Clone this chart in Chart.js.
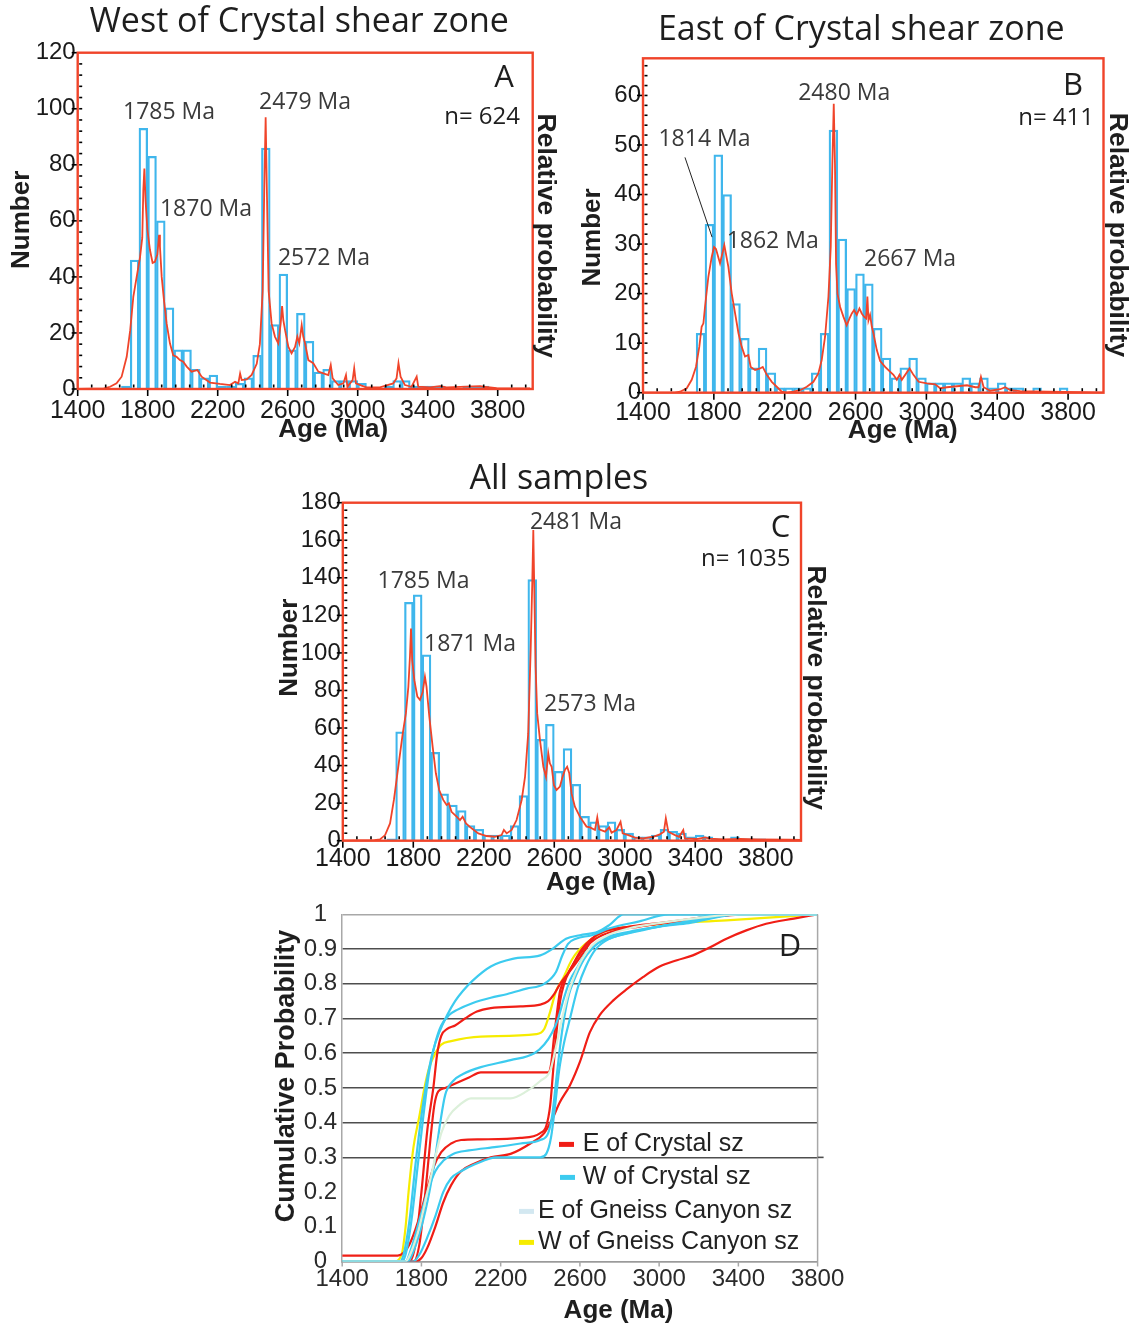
<!DOCTYPE html>
<html><head><meta charset="utf-8">
<script src="https://cdn.jsdelivr.net/npm/chart.js@4.4.1/dist/chart.umd.min.js"></script>
<style>
html,body{margin:0;padding:0;background:#fff;}
body{width:1139px;height:1325px;position:relative;overflow:hidden;}
canvas{position:absolute;display:block;}
</style></head><body>
<canvas id="cA" width="570" height="450" style="left:0;top:0"></canvas>
<canvas id="cB" width="569" height="450" style="left:570px;top:0"></canvas>
<canvas id="cC" width="560" height="445" style="left:270px;top:455px"></canvas>
<canvas id="cD" width="600" height="430" style="left:260px;top:895px"></canvas>
<script>
// ---------------- DATA ----------------
const binCenters = [1625,1675,1725,1775,1825,1875,1925,1975,2025,2075,2125,2175,2225,2275,2325,2375,2425,2475,2525,2575,2625,2675,2725,2775,2825,2875,2925,2975,3025,3075,3125,3175,3225,3275,3325,3375,3425,3475,3525,3575,3625,3675,3725,3775];
const countsA = [0,1,46,93,83,60,29,14,14,7,4,5,1,1,2,4,12,86,23,41,14,27,17,6,7,3,3,3,2,0,0,1,3,3,1,1,1,1,0,0,1,1,1,0];
const countsB = [0,0,12,34,48,40,18,11,5,9,4,1,1,1,1,4,12,53,31,21,24,22,13,7,3,5,7,3,2,2,2,2,3,2,3,1,2,1,1,0,1,0,0,1];
const countsC = [0,1,58,127,131,99,47,25,19,16,8,6,3,3,3,8,24,139,54,62,37,49,30,13,10,8,10,6,4,2,2,3,6,5,4,2,3,2,1,0,2,1,1,1];

// relative probability curves, in units of the histogram axis
const probA = [[1400,0],[1550,0.2],[1585,0.8],[1622,2],[1651,4.4],[1680,11.5],[1700,21],[1718,33],[1737,40],[1756,47],[1769,54],[1775,71],[1781,78.7],[1788,67],[1798,57],[1813,49.6],[1828,45],[1841,45.4],[1855,48],[1865,55],[1870,50.8],[1880,40],[1893,31.7],[1908,23.4],[1927,16.3],[1946,12],[1965,11.5],[1984,10.3],[2003,9.7],[2023,8],[2051,6.2],[2084,6.8],[2108,4.4],[2156,2.3],[2213,1.8],[2270,1.4],[2299,2.6],[2318,2],[2328,5.5],[2337,3.2],[2366,3.4],[2394,5],[2423,9],[2441,16],[2457,35],[2466,71],[2474,97],[2481,71],[2491,35],[2508,23.4],[2527,18.7],[2546,16.3],[2560,23.4],[2568,29.6],[2575,24.6],[2585,21],[2604,15],[2622,12.7],[2642,15],[2655,18.7],[2666,16.3],[2680,22.8],[2689,18.7],[2699,16.3],[2718,10.3],[2746,9.2],[2775,6.2],[2804,5.6],[2832,5],[2846,8.6],[2857,3.8],[2889,1.4],[2918,2],[2933,5],[2941,0.8],[2971,3.2],[2980,7.4],[2990,2],[3022,1.2],[3051,0.6],[3127,0.6],[3203,2],[3222,3.8],[3233,9.2],[3245,4.4],[3270,1.4],[3308,0.8],[3337,4.4],[3346,0.8],[3413,0.6],[3470,1],[3508,0.6],[3699,1],[3718,0.8],[3794,0.3],[3985,0.2]];
const probB = [[1400,0],[1580,0],[1609,0.2],[1647,0.9],[1675,2.6],[1699,5.2],[1718,9.3],[1731,13.3],[1741,14],[1750,17.3],[1769,23.4],[1788,27.4],[1801,29.4],[1812,29],[1835,26.1],[1859,29.8],[1882,25.4],[1901,20],[1920,16],[1939,12],[1957,9.3],[1976,7.3],[1995,7.6],[2008,5.2],[2033,4.6],[2061,4.9],[2076,5.2],[2099,3.6],[2127,2.2],[2155,1.2],[2183,0.2],[2212,0],[2249,0.2],[2287,0.5],[2325,1.2],[2362,2.2],[2390,3.9],[2409,6.6],[2428,11.3],[2447,19.4],[2460,29.4],[2469,46],[2477,58.3],[2484,46],[2490,26],[2498,20],[2513,17.3],[2532,15.3],[2550,13.6],[2566,15],[2579,16],[2592,16.7],[2607,15.7],[2622,17],[2635,16],[2649,15.3],[2660,15],[2667,19.4],[2673,14.6],[2682,15.7],[2692,13.3],[2701,12],[2720,8.6],[2739,6.4],[2767,5.2],[2796,4.2],[2814,3.6],[2833,2.6],[2848,3.6],[2861,2.6],[2905,4.9],[2927,3.6],[2956,2.2],[3003,1.9],[3050,1.7],[3078,0.9],[3116,1.1],[3172,1.3],[3229,1.5],[3276,1.1],[3295,1.1],[3308,3.2],[3323,1.1],[3361,0.4],[3417,0.7],[3445,1.1],[3474,0.5],[3530,0.3],[3681,0.2],[3869,0.1],[4000,0]];
const probC = [[1400,0],[1580,0.3],[1611,0.7],[1640,3],[1668,9.2],[1690,21.7],[1715,39.4],[1740,57],[1758,67.8],[1772,82],[1781,98],[1787,113],[1794,96],[1806,85.5],[1823,76.7],[1838,75],[1853,79],[1866,87.3],[1875,82],[1891,66],[1910,50],[1928,35.9],[1947,27],[1970,21.7],[1989,19],[2002,19.9],[2017,15.4],[2046,12.8],[2065,11],[2080,12.8],[2099,9.2],[2131,6.6],[2169,3.9],[2216,2.5],[2263,2.1],[2301,3],[2314,5.7],[2330,3.9],[2358,5.7],[2386,11],[2415,21.7],[2434,34],[2452,57],[2466,101.5],[2475,137],[2481,165.4],[2486,137],[2494,92.7],[2503,67.8],[2519,53.6],[2538,39.4],[2553,34],[2566,46.5],[2575,41.2],[2585,39.4],[2598,29.6],[2613,27],[2632,28.8],[2647,34],[2660,37.6],[2673,39.4],[2685,35.9],[2698,25.2],[2717,18.1],[2745,12.8],[2783,7.5],[2803,7.1],[2831,5.7],[2844,12.4],[2855,6],[2888,4.8],[2912,7.1],[2925,4.3],[2953,5.7],[2976,10],[2988,3.9],[3020,3],[3058,1.6],[3105,1.2],[3161,2.1],[3199,3.4],[3222,4.8],[3233,11.9],[3247,4.8],[3285,3],[3309,2.1],[3332,5.7],[3341,1.2],[3407,0.9],[3455,1.8],[3483,1.1],[3559,0.7],[3654,0.9],[3748,0.7],[3937,0.5],[4000,0.4]];

// cumulative probability curves (panel D)
const cumE_Crystal_1 = [[1400,0],[1740,0],[1770,0.05],[1800,0.2],[1830,0.38],[1860,0.5],[1880,0.6],[1900,0.65],[1930,0.67],[1970,0.68],[2020,0.7],[2080,0.72],[2150,0.73],[2300,0.735],[2400,0.74],[2440,0.75],[2470,0.77],[2500,0.8],[2540,0.83],[2580,0.86],[2630,0.9],[2680,0.94],[2720,0.955],[2800,0.96],[2950,0.97],[3100,0.98],[3300,0.995],[3400,1],[3800,1]];
const cumE_Crystal_2 = [[1400,0],[1760,0],[1790,0.05],[1820,0.2],[1845,0.35],[1865,0.45],[1885,0.49],[1920,0.5],[1980,0.515],[2040,0.53],[2100,0.545],[2440,0.545],[2455,0.57],[2470,0.65],[2485,0.72],[2500,0.78],[2530,0.82],[2570,0.86],[2620,0.9],[2680,0.93],[2760,0.95],[2900,0.965],[3100,0.98],[3300,0.995],[3450,1],[3800,1]];
const cumE_Crystal_3 = [[1400,0.017],[1680,0.017],[1710,0.025],[1740,0.05],[1780,0.11],[1820,0.19],[1860,0.27],[1900,0.315],[1950,0.34],[2000,0.35],[2100,0.352],[2300,0.356],[2400,0.37],[2430,0.39],[2450,0.45],[2465,0.55],[2480,0.65],[2500,0.75],[2520,0.8],[2560,0.85],[2610,0.9],[2660,0.93],[2720,0.95],[2850,0.965],[3000,0.975],[3200,0.99],[3350,1],[3800,1]];
const cumE_Crystal_4 = [[1400,0],[1770,0],[1800,0.01],[1830,0.04],[1870,0.1],[1910,0.17],[1950,0.22],[2000,0.26],[2060,0.28],[2150,0.3],[2250,0.31],[2350,0.34],[2420,0.37],[2460,0.41],[2500,0.46],[2550,0.508],[2600,0.575],[2650,0.66],[2700,0.71],[2770,0.753],[2840,0.786],[2920,0.82],[3000,0.849],[3090,0.868],[3170,0.882],[3260,0.906],[3340,0.93],[3440,0.954],[3540,0.973],[3680,0.988],[3800,1]];
const cumW_Crystal_1 = [[1400,0],[1690,0],[1710,0.02],[1740,0.12],[1770,0.28],[1800,0.42],[1830,0.53],[1860,0.61],[1890,0.66],[1930,0.71],[1970,0.75],[2010,0.78],[2060,0.81],[2150,0.85],[2260,0.872],[2400,0.882],[2460,0.9],[2530,0.93],[2600,0.94],[2690,0.95],[2750,0.97],[2820,1],[3800,1]];
const cumW_Crystal_2 = [[1400,0],[1700,0],[1720,0.02],[1750,0.12],[1780,0.27],[1810,0.42],[1840,0.55],[1870,0.63],[1900,0.68],[1940,0.71],[1980,0.725],[2060,0.745],[2150,0.76],[2230,0.77],[2330,0.786],[2420,0.8],[2480,0.835],[2510,0.88],[2540,0.915],[2580,0.93],[2660,0.94],[2750,0.96],[2900,0.98],[3050,1],[3800,1]];
const cumW_Crystal_3 = [[1400,0],[1730,0],[1760,0.03],[1800,0.1],[1840,0.2],[1870,0.3],[1895,0.4],[1920,0.48],[1960,0.52],[2010,0.54],[2100,0.56],[2250,0.58],[2370,0.6],[2420,0.625],[2460,0.66],[2490,0.7],[2520,0.76],[2550,0.81],[2590,0.85],[2630,0.89],[2700,0.92],[2800,0.94],[2950,0.96],[3100,0.975],[3300,1],[3800,1]];
const cumW_Crystal_4 = [[1400,0],[1720,0],[1750,0.04],[1790,0.12],[1830,0.2],[1870,0.26],[1910,0.29],[1960,0.31],[2040,0.32],[2180,0.33],[2300,0.34],[2400,0.35],[2440,0.37],[2460,0.42],[2480,0.52],[2500,0.62],[2520,0.7],[2545,0.77],[2570,0.81],[2620,0.87],[2660,0.9],[2720,0.93],[2850,0.95],[3000,0.965],[3150,0.98],[3400,1],[3800,1]];
const cumW_Crystal_5 = [[1400,0],[1760,0],[1790,0.02],[1830,0.07],[1870,0.13],[1910,0.2],[1950,0.24],[2000,0.26],[2070,0.28],[2180,0.3],[2400,0.3],[2430,0.31],[2455,0.36],[2475,0.45],[2495,0.55],[2520,0.63],[2550,0.7],[2590,0.79],[2630,0.85],[2680,0.9],[2750,0.93],[2880,0.95],[3000,0.965],[3150,0.975],[3400,1],[3800,1]];
const cumE_Gneiss = [[1400,0],[1720,0],[1750,0.03],[1790,0.1],[1830,0.2],[1870,0.3],[1900,0.37],[1940,0.42],[1990,0.45],[2050,0.47],[2250,0.47],[2330,0.49],[2400,0.52],[2450,0.55],[2480,0.62],[2510,0.7],[2540,0.77],[2570,0.82],[2610,0.87],[2660,0.91],[2740,0.94],[2850,0.96],[3000,0.975],[3200,0.99],[3400,1],[3800,1]];
const cumW_Gneiss = [[1400,0],[1660,0],[1700,0.02],[1720,0.1],[1735,0.2],[1760,0.33],[1790,0.42],[1815,0.5],[1840,0.56],[1870,0.6],[1900,0.625],[1950,0.635],[2100,0.648],[2380,0.655],[2420,0.67],[2450,0.72],[2480,0.78],[2510,0.81],[2560,0.87],[2600,0.9],[2650,0.925],[2720,0.95],[2850,0.964],[3000,0.972],[3340,0.983],[3590,0.992],[3800,1]];

// ticks and labels
const xTicks = [1400,1800,2200,2600,3000,3400,3800];
const xTickLabels = ['1400','1800','2200','2600','3000','3400','3800'];
const yTicksA = [0,20,40,60,80,100,120];
const yTicksB = [0,10,20,30,40,50,60];
const yTicksC = [0,20,40,60,80,100,120,140,160,180];
const yTicksD = [0,0.1,0.2,0.3,0.4,0.5,0.6,0.7,0.8,0.9,1];
const yTickLabelsD = ['0','0.1','0.2','0.3','0.4','0.5','0.6','0.7','0.8','0.9','1'];

const panelTitles = ['West of Crystal shear zone','East of Crystal shear zone','All samples'];
const panelLetters = ['A','B','C','D'];
const sampleSizes = ['n= 624','n= 411','n= 1035'];
const peakLabelsA = ['1785 Ma','1870 Ma','2479 Ma','2572 Ma'];
const peakLabelsB = ['1814 Ma','1862 Ma','2480 Ma','2667 Ma'];
const peakLabelsC = ['1785 Ma','1871 Ma','2481 Ma','2573 Ma'];
const legendNames = ['E of Crystal sz','W of Crystal sz','E of Gneiss Canyon sz','W of Gneiss Canyon sz'];

// ---------------- STYLE / DRAWING ----------------
Chart.defaults.font.family = '"Liberation Sans", Arial, sans-serif';
Chart.defaults.color = '#1a1a1a';
const RED = '#f0442a', BAR = '#3fb6ec';
const SANS = '"Liberation Sans", Arial, sans-serif', OPEN = '"Open Sans", "Noto Sans", sans-serif';

function txt(ctx, s, x, y, font, color, align, rot) {
  ctx.save(); ctx.translate(x, y); if (rot) ctx.rotate(rot);
  ctx.font = font; ctx.fillStyle = color || '#1e1e1e';
  ctx.textAlign = align || 'center'; ctx.textBaseline = 'middle';
  ctx.fillText(s, 0, 0); ctx.restore();
}
function seg(ctx, x0, y0, x1, y1) { ctx.beginPath(); ctx.moveTo(x0, y0); ctx.lineTo(x1, y1); ctx.stroke(); }

function decor(cfg) {
  return { id: 'decor', afterDraw(chart) {
    const ctx = chart.ctx, a = chart.chartArea, xs = chart.scales.x, ys = chart.scales.y;
    const P = {L:a.left, R:a.right, T:a.top, B:a.bottom, cx:(a.left+a.right)/2, cy:(a.top+a.bottom)/2};
    ctx.save();
    if (cfg.box) { ctx.strokeStyle = cfg.box; ctx.lineWidth = 2.4; ctx.strokeRect(P.L, P.T, P.R-P.L, P.B-P.T); }
    if (cfg.minorX) {
      ctx.strokeStyle = '#000'; ctx.lineWidth = 1.6;
      for (let v = 1400 + cfg.minorX; v < xs.max; v += cfg.minorX) {
        if ((v - 1400) % 400 === 0) continue;
        const px = xs.getPixelForValue(v); seg(ctx, px, P.B - 1.5, px, P.B - 4.5);
      }
      xTicks.forEach(v => { const px = xs.getPixelForValue(v); seg(ctx, px, P.B + 1, px, P.B + 7); });
      for (let v = cfg.minorY; v < ys.max - 0.5; v += cfg.minorY) {
        const py = ys.getPixelForValue(v); seg(ctx, P.L + 1.5, py, P.L + 4.5, py);
      }
      cfg.yTicks.forEach(v => { const py = ys.getPixelForValue(v); seg(ctx, P.L - 6, py, P.L - 1, py); });
    }
    if (cfg.extra) cfg.extra(ctx, P, xs, ys);
    (cfg.lines || []).forEach(l => {
      ctx.strokeStyle = '#222'; ctx.lineWidth = 1;
      seg(ctx, xs.getPixelForValue(l[0]), ys.getPixelForValue(l[1]), xs.getPixelForValue(l[2]), ys.getPixelForValue(l[3]));
    });
    (cfg.notes || []).forEach(n => txt(ctx, n.s, xs.getPixelForValue(n.x), ys.getPixelForValue(n.y), '23px ' + OPEN, '#3a3a3a'));
    (cfg.texts || []).forEach(t => txt(ctx, t.s, t.x(P), t.y(P), t.font, t.color, t.align, t.rot));
    ctx.restore();
  }};
}

function histChart(id, cfg) {
  return new Chart(document.getElementById(id), {
    type: 'bar',
    data: { datasets: [
      { type: 'line', label: 'Relative probability', data: cfg.prob.map(p => ({x: p[0], y: p[1]})), yAxisID: 'y2',
        borderColor: RED, borderWidth: 1.8, pointRadius: 0, tension: 0, order: 0 },
      { type: 'bar', label: 'Number', data: binCenters.map((c, i) => ({x: c, y: cfg.counts[i]})), yAxisID: 'y',
        backgroundColor: 'rgba(0,0,0,0)', borderColor: BAR, borderWidth: 1.6, barPercentage: 1, categoryPercentage: 1,
        borderSkipped: 'bottom', order: 1 }
    ]},
    options: {
      responsive: false, animation: false, devicePixelRatio: 1,
      layout: { padding: { left: 0, top: cfg.T, right: 0, bottom: 0 } },
      plugins: { legend: { display: false }, tooltip: { enabled: false } },
      scales: {
        x: { type: 'linear', min: 1400, max: 4000, offset: false,
             grid: { display: false, offset: false, drawTicks: false }, border: { display: false },
             afterBuildTicks: s => { s.ticks = xTicks.map(v => ({value: v})); },
             ticks: { font: { size: 25 }, color: '#1a1a1a', padding: cfg.xPad, maxRotation: 0, autoSkip: false,
                      callback: (v, i) => xTickLabels[i] },
             afterFit: s => { s.height = cfg.xH; } },
        y: { position: 'left', min: 0, max: cfg.yMax,
             grid: { display: false, drawTicks: false }, border: { display: false },
             afterBuildTicks: s => { s.ticks = cfg.yTicks.map(v => ({value: v})); },
             ticks: { font: { size: 24 }, color: '#1a1a1a', padding: 2, autoSkip: false, callback: v => String(v) },
             afterFit: s => { s.width = cfg.L; } },
        y2: { position: 'right', min: 0, max: cfg.yMax,
              grid: { display: false, drawTicks: false }, border: { display: false },
              ticks: { display: false }, afterFit: s => { s.width = cfg.y2W; } }
      }
    },
    plugins: [decor(cfg)]
  });
}

const TFONT = '34px ' + OPEN, LFONT = '31px ' + OPEN, NFONT = '24px ' + OPEN;
const AXF = 'bold 26px ' + SANS, RPF = 'bold 26.5px ' + SANS;

histChart('cA', {
  T: 52.7, L: 77.7, y2W: 37.3, xH: 61, xPad: 7, yMax: 120, yTicks: yTicksA, minorX: 80, minorY: 4,
  counts: countsA, prob: probA, box: RED,
  notes: [ {s: peakLabelsA[0], x: 1922, y: 98.8}, {s: peakLabelsA[1], x: 2133, y: 64.2},
           {s: peakLabelsA[2], x: 2699, y: 102.4}, {s: peakLabelsA[3], x: 2807, y: 46.7} ],
  texts: [
    {s: panelTitles[0], x: P => P.cx - 6, y: P => P.T - 30.7, font: TFONT},
    {s: 'Number', x: P => P.L - 55.7, y: P => P.cy - 1, font: AXF, rot: -Math.PI/2},
    {s: 'Relative probability', x: P => P.R + 12.5, y: P => P.cy + 15, font: RPF, rot: Math.PI/2},
    {s: 'Age (Ma)', x: P => P.cx + 28, y: P => P.B + 41, font: AXF},
    {s: panelLetters[0], x: P => P.R - 28.7, y: P => P.T + 25.3, font: LFONT},
    {s: sampleSizes[0], x: P => P.R - 12.7, y: P => P.T + 64.3, font: NFONT, align: 'right'}
  ]
});

histChart('cB', {
  T: 58.3, L: 73, y2W: 35.5, xH: 57.3, xPad: 5, yMax: 67.5, yTicks: yTicksB, minorX: 80, minorY: 2,
  counts: countsB, prob: probB, box: RED,
  lines: [[1637, 47.5, 1790, 31.4]],
  notes: [ {s: peakLabelsB[0], x: 1747, y: 51.1}, {s: peakLabelsB[1], x: 2132, y: 30.6},
           {s: peakLabelsB[2], x: 2536, y: 60.4}, {s: peakLabelsB[3], x: 2908, y: 26.8} ],
  texts: [
    {s: panelTitles[1], x: P => P.cx - 12, y: P => P.T - 28.3, font: TFONT},
    {s: 'Number', x: P => P.L - 50, y: P => P.cy + 12, font: AXF, rot: -Math.PI/2},
    {s: 'Relative probability', x: P => P.R + 13.5, y: P => P.cy + 9.5, font: RPF, rot: Math.PI/2},
    {s: 'Age (Ma)', x: P => P.cx + 29.5, y: P => P.B + 38.5, font: AXF},
    {s: panelLetters[1], x: P => P.R - 30.5, y: P => P.T + 27.7, font: LFONT},
    {s: sampleSizes[1], x: P => P.R - 9.5, y: P => P.T + 59.7, font: NFONT, align: 'right'}
  ]
});

histChart('cC', {
  T: 47.7, L: 72.8, y2W: 29, xH: 59.3, xPad: 3.5, yMax: 180, yTicks: yTicksC, minorX: 80, minorY: 4,
  counts: countsC, prob: probC, box: RED,
  notes: [ {s: peakLabelsC[0], x: 1858, y: 137.8}, {s: peakLabelsC[1], x: 2122, y: 104.7},
           {s: peakLabelsC[2], x: 2723, y: 169.7}, {s: peakLabelsC[3], x: 2803, y: 72.8} ],
  texts: [
    {s: panelTitles[2], x: P => P.cx - 13, y: P => P.T - 23.7, font: TFONT},
    {s: 'Number', x: P => P.L - 52.8, y: P => P.cy - 24, font: AXF, rot: -Math.PI/2},
    {s: 'Relative probability', x: P => P.R + 14.5, y: P => P.cy + 16, font: RPF, rot: Math.PI/2},
    {s: 'Age (Ma)', x: P => P.cx + 29, y: P => P.B + 42, font: AXF},
    {s: panelLetters[2], x: P => P.R - 20.4, y: P => P.T + 25.3, font: LFONT},
    {s: sampleSizes[2], x: P => P.R - 10.5, y: P => P.T + 56.3, font: NFONT, align: 'right'}
  ]
});

// ---------------- PANEL D ----------------
const colE = '#f01e16', colW = '#3ccbef', colEG = '#dcf0da', colWG = '#f6ec00';
const legendColors = [colE, colW, '#d3e8f1', colWG];
const curvesD = [
  {name: legendNames[2], color: colEG, pts: cumE_Gneiss},
  {name: legendNames[1], color: colW, pts: cumW_Crystal_1},
  {name: legendNames[1], color: colW, pts: cumW_Crystal_2},
  {name: legendNames[1], color: colW, pts: cumW_Crystal_3},
  {name: legendNames[1], color: colW, pts: cumW_Crystal_4},
  {name: legendNames[1], color: colW, pts: cumW_Crystal_5},
  {name: legendNames[0], color: colE, pts: cumE_Crystal_1},
  {name: legendNames[0], color: colE, pts: cumE_Crystal_2},
  {name: legendNames[0], color: colE, pts: cumE_Crystal_3},
  {name: legendNames[0], color: colE, pts: cumE_Crystal_4},
  {name: legendNames[3], color: colWG, pts: cumW_Gneiss}
];
const legendPlaceD = [ {m0: -258.6, tx: -234.9, dy: 230}, {m0: -257.6, tx: -234.9, dy: 263},
                       {m0: -298.6, tx: -279.6, dy: 297}, {m0: -298.6, tx: -279.6, dy: 328} ];

new Chart(document.getElementById('cD'), {
  type: 'line',
  data: { datasets: curvesD.map(c => ({ label: c.name, data: c.pts.map(p => ({x: p[0], y: p[1]})),
    borderColor: c.color, borderWidth: 2.2, pointRadius: 0, cubicInterpolationMode: 'monotone', fill: false })) },
  options: {
    responsive: false, animation: false, devicePixelRatio: 1,
    layout: { padding: { left: 0, top: 19, right: 42.4, bottom: 0 } },
    plugins: { legend: { display: false }, tooltip: { enabled: false } },
    scales: {
      x: { type: 'linear', min: 1400, max: 3800, grid: { display: false, drawTicks: false },
           border: { display: true, color: '#9a9a9a', width: 1.5 },
           afterBuildTicks: s => { s.ticks = xTicks.map(v => ({value: v})); },
           ticks: { font: { size: 24 }, color: '#2a2a2a', padding: 3, maxRotation: 0, autoSkip: false,
                    callback: (v, i) => xTickLabels[i] },
           afterFit: s => { s.height = 63.5; } },
      y: { min: 0, max: 1,
           grid: { drawTicks: false, lineWidth: 1.6,
                   color: c => { const v = c.tick.value; if (v > 0.25 && v < 0.95) return '#4e4e4e'; if (v < 0.05 || v > 0.95) return '#a8a8a8'; return 'rgba(0,0,0,0)'; } },
           border: { display: true, color: '#a8a8a8', width: 1.5 },
           afterBuildTicks: s => { s.ticks = yTicksD.map(v => ({value: v})); },
           ticks: { font: { size: 24 }, color: '#2a2a2a', padding: 5, crossAlign: 'center', autoSkip: false,
                    callback: (v, i) => yTickLabelsD[i] },
           afterFit: s => { s.width = 82.2; } }
    }
  },
  plugins: [decor({
    extra: (ctx, P, xs, ys) => {
      ctx.strokeStyle = '#a8a8a8'; ctx.lineWidth = 1.5;
      seg(ctx, P.R, P.T, P.R, P.B);
      xTicks.forEach(v => { const px = xs.getPixelForValue(v); seg(ctx, px, P.B, px, P.B + 5); });
      ctx.strokeStyle = '#4e4e4e'; ctx.lineWidth = 1.6;
      const y3 = ys.getPixelForValue(0.3); seg(ctx, P.R, y3, P.R + 6, y3);
      legendNames.forEach((n, i) => {
        const lp = legendPlaceD[i], y = P.T + lp.dy;
        ctx.strokeStyle = legendColors[i]; ctx.lineWidth = 5;
        seg(ctx, P.R + lp.m0, y, P.R + lp.m0 + 15, y);
        txt(ctx, n, P.R + lp.tx, y, '25px ' + SANS, '#222', 'left');
      });
    },
    texts: [
      {s: 'Cumulative Probability', x: P => P.L - 56, y: P => P.cy - 12, font: 'bold 27px ' + SANS, rot: -Math.PI/2},
      {s: 'Age (Ma)', x: P => P.cx + 38.6, y: P => P.B + 49.5, font: AXF},
      {s: panelLetters[3], x: P => P.R - 27.6, y: P => P.T + 33, font: LFONT}
    ]
  })]
});
</script>
</body></html>
